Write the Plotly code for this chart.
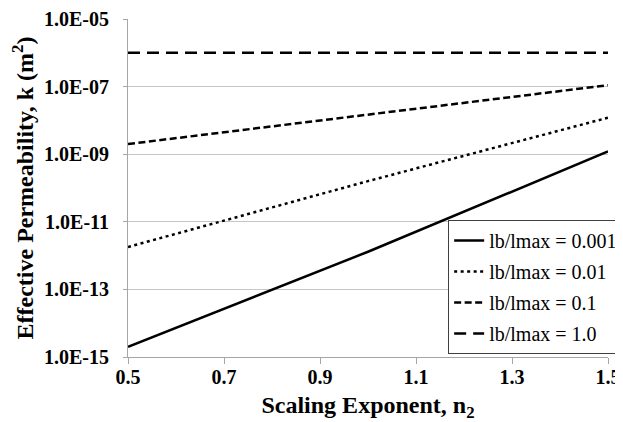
import plotly.graph_objects as go

n2 = [0.5, 1.0, 1.5]
k_0001 = [2.0e-15, 1.3e-12, 1.2e-9]
k_001 = [1.8e-12, 1.6e-10, 1.2e-8]
k_01 = [2.0e-9, 1.5e-8, 1.1e-7]
k_1 = [1.0e-6, 1.0e-6, 1.0e-6]

names = ["lb/lmax = 0.001", "lb/lmax = 0.01", "lb/lmax = 0.1", "lb/lmax = 1.0"]
series = [k_0001, k_001, k_01, k_1]
dashes = ["solid", "3px,3.5px", "7px,3.5px", "12px,7px"]

y_tickvals = [1e-15, 1e-13, 1e-11, 1e-9, 1e-7, 1e-5]
y_ticktext = ["1.0E-15", "1.0E-13", "1.0E-11", "1.0E-09", "1.0E-07", "1.0E-05"]
x_tickvals = [0.5, 0.7, 0.9, 1.1, 1.3, 1.5]

fig = go.Figure()
for i, (nm, ys, d) in enumerate(zip(names, series, dashes)):
    fig.add_trace(go.Scatter(
        x=n2, y=ys, mode="lines", name=nm, legendgroup=str(i),
        line=dict(color="black", width=2.5, dash=d),
    ))

serif = "Times New Roman, Liberation Serif, serif"
fig.update_layout(
    width=623, height=414,
    margin=dict(l=120, r=23, t=11, b=65, autoexpand=False),
    paper_bgcolor="white", plot_bgcolor="white",
    font=dict(family=serif, color="black"),
    showlegend=True,
    legend=dict(
        x=0.667, y=0.405, xanchor="left", yanchor="top",
        bgcolor="white", bordercolor="#404040", borderwidth=1,
        font=dict(family=serif, size=20, color="black"),
        tracegroupgap=2, itemwidth=30,
    ),
    xaxis=dict(
        range=[0.5, 1.5], tickvals=x_tickvals, tickformat=".1f",
        automargin=False, ticklabeloverflow="allow",
        showgrid=False, zeroline=False,
        showline=True, linecolor="#a6a6a6", linewidth=1,
        ticks="outside", ticklen=6, tickcolor="#a6a6a6",
        ticklabelstandoff=-4,
        tickfont=dict(family=serif, size=20, color="black", weight="bold"),
        title=dict(text="Scaling Exponent, n<sub>2</sub>",
                   font=dict(family=serif, size=24, color="black", weight="bold"),
                   standoff=16),
    ),
    yaxis=dict(
        type="log", range=[-15, -5], tickvals=y_tickvals, ticktext=y_ticktext,
        automargin=False,
        showgrid=True, gridcolor="#c6c6c6", gridwidth=1, zeroline=False,
        showline=True, linecolor="#a6a6a6", linewidth=1,
        ticks="outside", ticklen=4, tickcolor="#a6a6a6",
        ticklabelstandoff=10,
        tickfont=dict(family=serif, size=20, color="black", weight="bold"),
        title=dict(text="Effective Permeability, k (m<sup>2</sup>)",
                   font=dict(family=serif, size=24, color="black", weight="bold"),
                   standoff=13),
    ),
)
fig.write_html("out.html")
